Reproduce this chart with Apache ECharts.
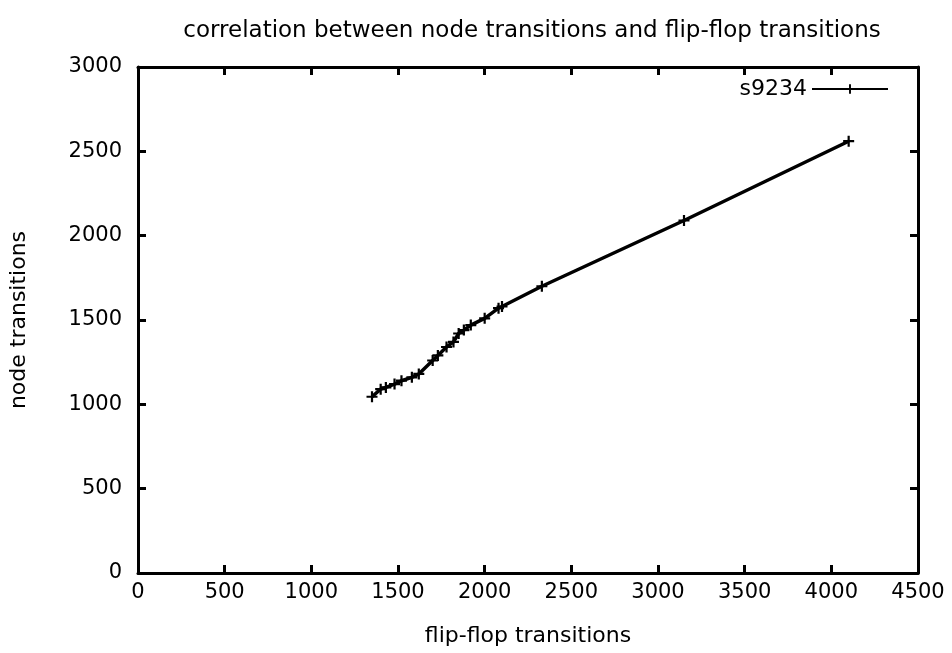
<!DOCTYPE html>
<html>
<head>
<meta charset="utf-8">
<script src="https://cdn.jsdelivr.net/npm/echarts@6/dist/echarts.min.js"></script>
<style>
  html, body { margin: 0; padding: 0; background: #fff; }
  #chart { width: 952px; height: 653px; }
</style>
</head>
<body>
<div id="chart"></div>
<script>
// flip-flop transitions (x) vs node transitions (y) for circuit s9234
const seriesName = 's9234';
const flipFlopTransitions = [1350, 1400, 1430, 1480, 1520, 1580, 1620, 1700, 1730, 1780, 1820, 1850, 1880, 1920, 2000, 2080, 2100, 2330, 3150, 4100];
const nodeTransitions    = [1045, 1090, 1100, 1120, 1140, 1160, 1180, 1260, 1290, 1340, 1370, 1420, 1440, 1470, 1510, 1570, 1580, 1700, 2090, 2560];
const xTicks = [0, 500, 1000, 1500, 2000, 2500, 3000, 3500, 4000, 4500];
const yTicks = [0, 500, 1000, 1500, 2000, 2500, 3000];

const FONT = 'DejaVu Sans, sans-serif';
const plusSymbol = 'path://M4,0h2v4h4v2h-4v4h-2v-4h-4v-2h4z';

const points = flipFlopTransitions.map((x, i) => [x, nodeTransitions[i]]);

const axisLine = { show: true, onZero: false, lineStyle: { color: '#000', width: 3 } };
const axisTick = { show: true, inside: true, length: 8, lineStyle: { color: '#000', width: 3 } };
const plain = v => String(v);

const chart = echarts.init(document.getElementById('chart'), null, { renderer: 'canvas' });
chart.setOption({
  animation: false,
  backgroundColor: '#fff',
  title: {
    text: 'correlation between node transitions and flip-flop transitions',
    left: 527, top: 15, textAlign: 'center',
    textStyle: { fontFamily: FONT, fontSize: 23, fontWeight: 'normal', color: '#000' }
  },
  legend: {
    right: 58, top: 73,
    align: 'right',
    itemWidth: 76, itemHeight: 12,
    textStyle: { fontFamily: FONT, fontSize: 22, color: '#000' },
    data: [seriesName]
  },
  grid: { left: 138, right: 34, top: 67, bottom: 80, containLabel: false },
  xAxis: [{
    type: 'value', min: xTicks[0], max: xTicks[xTicks.length - 1], interval: 500,
    name: 'flip-flop transitions', nameLocation: 'middle', nameGap: 52,
    nameTextStyle: { fontFamily: FONT, fontSize: 22, color: '#000' },
    axisLine, axisTick, splitLine: { show: false },
    axisLabel: { fontFamily: FONT, fontSize: 21, color: '#000', margin: 9, formatter: plain }
  }, {
    type: 'value', position: 'top', min: xTicks[0], max: xTicks[xTicks.length - 1], interval: 500,
    axisLine, axisTick, splitLine: { show: false }, axisLabel: { show: false }
  }],
  yAxis: [{
    type: 'value', min: yTicks[0], max: yTicks[yTicks.length - 1], interval: 500,
    name: 'node transitions', nameLocation: 'middle', nameGap: 108, nameRotate: 90,
    nameTextStyle: { fontFamily: FONT, fontSize: 22, color: '#000' },
    axisLine, axisTick, splitLine: { show: false },
    axisLabel: { fontFamily: FONT, fontSize: 21, color: '#000', margin: 16, formatter: plain }
  }, {
    type: 'value', position: 'right', min: yTicks[0], max: yTicks[yTicks.length - 1], interval: 500,
    axisLine, axisTick, splitLine: { show: false }, axisLabel: { show: false }
  }],
  series: [{
    name: seriesName,
    type: 'line',
    data: points,
    symbol: plusSymbol,
    symbolSize: 11,
    showSymbol: true,
    lineStyle: { color: '#000', width: 3.5 },
    itemStyle: { color: '#000' }
  }]
});
</script>
</body>
</html>
